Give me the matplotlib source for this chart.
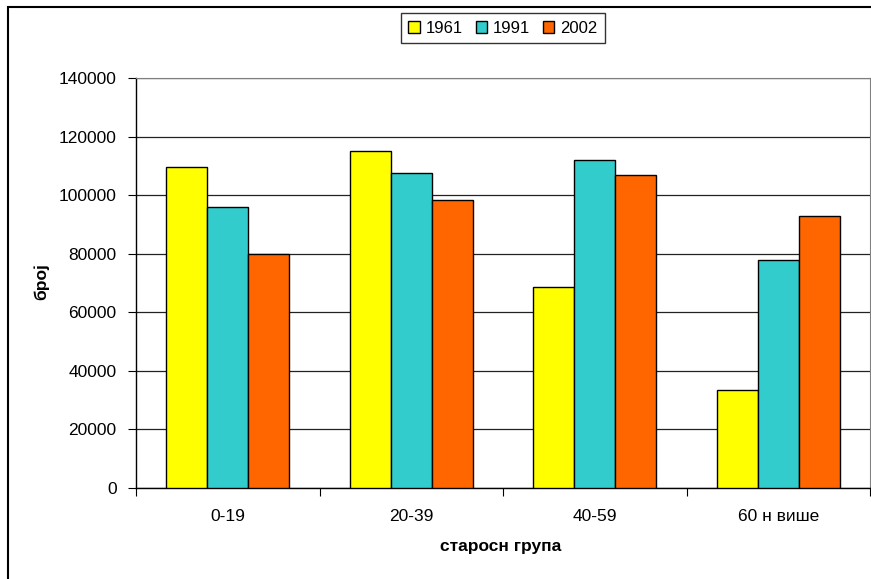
import matplotlib.pyplot as plt
import numpy as np
from matplotlib.patches import Rectangle

plt.rcParams['font.family'] = ['Liberation Sans', 'DejaVu Sans']

# Data
groups = ["0-19", "20-39", "40-59", "60 н више"]
years = ["1961", "1991", "2002"]
v1961 = [109500, 115000, 68500, 33500]
v1991 = [96000, 107500, 112000, 78000]
v2002 = [80000, 98500, 107000, 93000]
colors = ["#FFFF00", "#33CCCC", "#FF6600"]

W, H = 871, 579
fig = plt.figure(figsize=(W / 100, H / 100), dpi=100)
ax = fig.add_axes([136 / W, 1 - 488 / H, (870 - 136) / W, (488 - 78) / H])

# outer frame of the chart
fig.patches.append(Rectangle((8 / W, -0.1), 1.2, 1 - 7 / H + 0.1,
                             transform=fig.transFigure, fill=False,
                             edgecolor="black", linewidth=1.5))

x = np.arange(len(groups))
bw = 41 / 183.5
for k, (vals, lab) in enumerate(zip([v1961, v1991, v2002], years)):
    ax.bar(x + (k - 1) * bw, vals, width=bw, color=colors[k],
           edgecolor="black", linewidth=1, label=lab, zorder=3)

ax.set_xlim(-0.5, len(groups) - 0.5)
ax.set_ylim(0, 140000)
ax.set_yticks(np.arange(0, 140001, 20000))
ax.yaxis.grid(True, color="#222222", linewidth=0.9, zorder=0)

ax.set_xticks(np.arange(-0.5, len(groups)), labels=[""] * (len(groups) + 1))
ax.set_xticks(x, labels=groups, minor=True)
ax.tick_params(axis="x", which="minor", length=0, pad=15, labelsize=12.5)
ax.tick_params(axis="x", which="major", length=6, direction="out")
ax.tick_params(axis="y", length=6, direction="out", pad=8, labelsize=12.5)

for s in ["top", "right"]:
    ax.spines[s].set_color("#808080")
ax.spines["left"].set_linewidth(1)
ax.spines["bottom"].set_linewidth(1)

# axis titles placed where the reference has them
fig.text(41 / W, 1 - 282 / H, "број", rotation=90, ha="center", va="center",
         fontsize=12.5, fontweight="bold")
fig.text(501 / W, 1 - 547 / H, "старосн група", ha="center", va="center",
         fontsize=12.5, fontweight="bold")

leg = ax.legend(loc="lower center", bbox_to_anchor=(0.5, 1.085), ncol=3,
                frameon=True, fancybox=False, edgecolor="black",
                borderaxespad=0,
                handlelength=0.7, handleheight=0.7, handletextpad=0.35,
                columnspacing=0.75, borderpad=0.45, fontsize=12)
leg.get_frame().set_linewidth(1)

fig.savefig("out.png", dpi=100)
